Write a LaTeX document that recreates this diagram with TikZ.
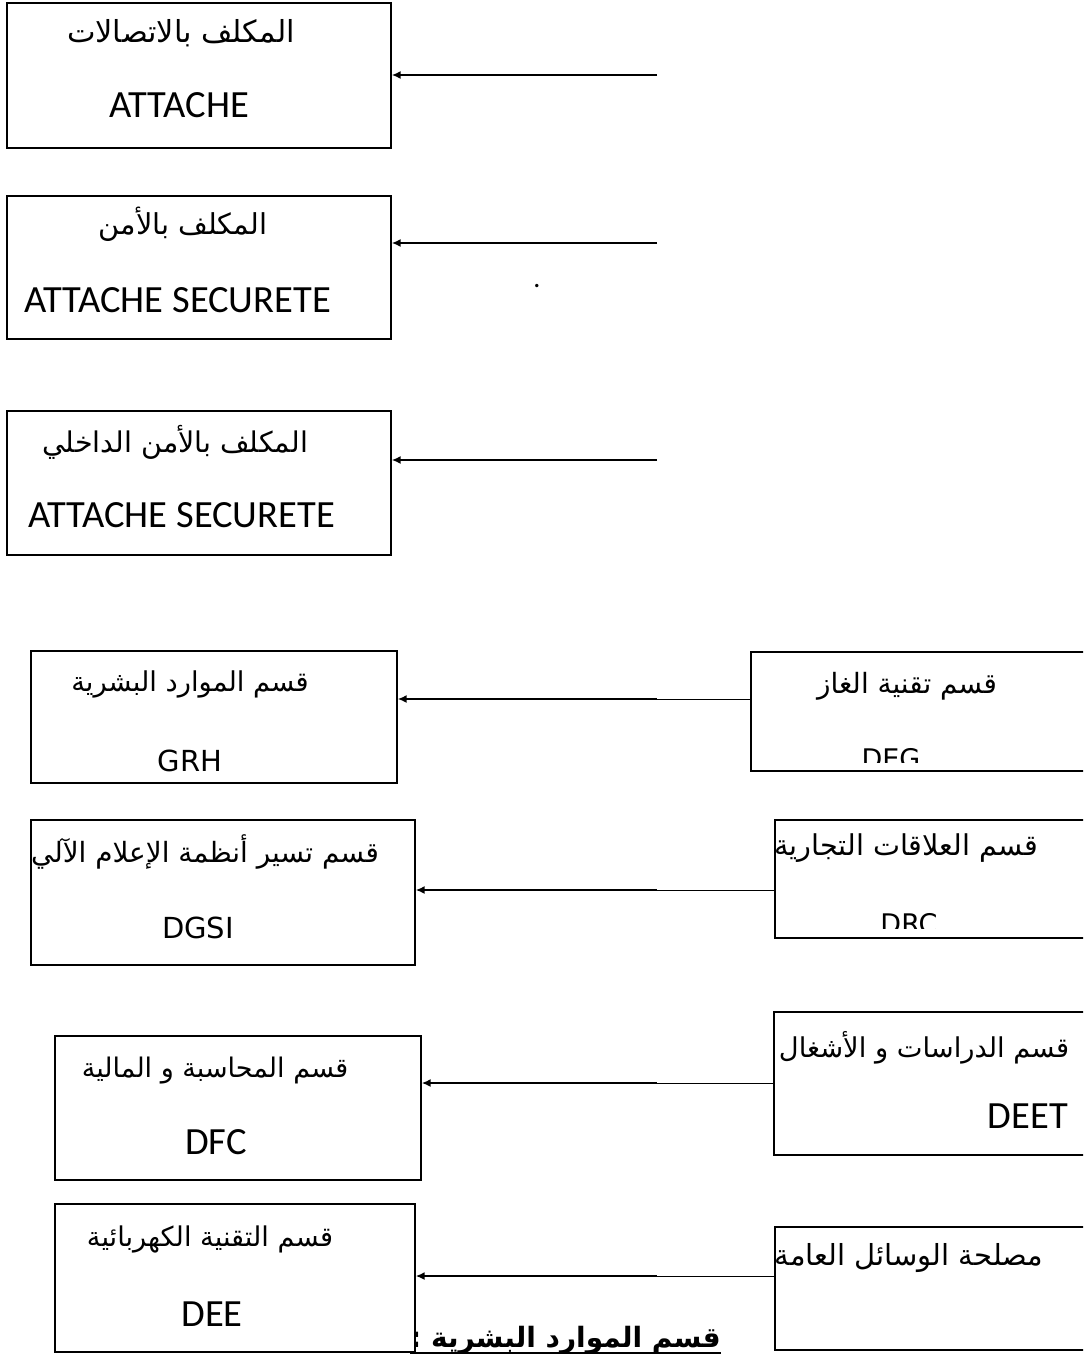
\documentclass[tikz,border=0pt]{standalone}
\usepackage{fontspec}
\usetikzlibrary{arrows.meta}
\TeXXeTstate=1
\newfontfamily\arabicfont[Script=Arabic]{DejaVu Sans}
\newfontfamily\calfont{Carlito}
\newfontfamily\vfont{DejaVu Sans}
\newcommand\artext[1]{{\arabicfont\beginR #1\endR}}
\newcommand\setfs[1]{\fontsize{#1bp}{#1bp}\selectfont}

\tikzset{
  box/.style={draw, line width=1.3bp, fill=white, inner sep=0pt},
  lbl/.style={inner sep=0pt, anchor=base},
  ar/.style={lbl, font=\setfs{27.5}},
  cal/.style={lbl, font=\calfont\setfs{38.5}},
  ver/.style={lbl, font=\vfont\setfs{29}},
  arr/.style={-{Latex[length=9bp,width=8bp]}, line width=2.1bp},
  link/.style={line width=1bp}
}

\begin{document}
\begin{tikzpicture}[x=1bp,y=-1bp]
\useasboundingbox (0,0) rectangle (1083,1360);
\clip (0,0) rectangle (1083,1360);
\fill[white] (0,0) rectangle (1083,1360);

% attachés (upper column)
\node[box, minimum width=384bp, minimum height=145bp] (att1) at (199,75.5) {};
\node[ar, font=\setfs{30.3}] (att1a) at (181,43) {\artext{المكلف بالاتصالات}};
\node[cal] (att1b) at (179,118) {ATTACHE};

\node[box, minimum width=384bp, minimum height=143bp] (att2) at (199,267.5) {};
\node[ar, font=\setfs{28.8}] (att2a) at (183,235) {\artext{المكلف بالأمن}};
\node[cal] (att2b) at (177.5,312) {ATTACHE SECURETE};

\node[box, minimum width=384bp, minimum height=144bp] (att3) at (199,483) {};
\node[ar, font=\setfs{28.5}] (att3a) at (175,452) {\artext{المكلف بالأمن الداخلي}};
\node[cal] (att3b) at (181.5,527) {ATTACHE SECURETE};

\node[cal, font=\calfont\setfs{28}] (dot) at (537,287) {.};

\coordinate (s1) at (657,75);
\coordinate (s2) at (657,243);
\coordinate (s3) at (657,460);
\draw[arr] (s1) -- (s1 -| att1.east);
\draw[arr] (s2) -- (s2 -| att2.east);
\draw[arr] (s3) -- (s3 -| att3.east);

% title under the lower left column
\node[lbl, anchor=base east, font=\bfseries\setfs{28}] (title) at (721,1347) {\artext{قسم الموارد البشرية :}};
\draw[line width=1.5bp] ([yshift=-6bp]title.base west) -- ([yshift=-6bp]title.base east);

% departments, left column
\node[box, minimum width=366bp, minimum height=132bp] (grh) at (214,717) {};
\node[ar, font=\setfs{27.3}] (grha) at (190,691) {\artext{قسم الموارد البشرية}};
\node[ver] (grhb) at (190,771) {GRH};

\node[box, minimum width=384bp, minimum height=145bp] (dgsi) at (223,892.5) {};
\node[ar, font=\setfs{27.9}] (dgsia) at (205,862) {\artext{قسم تسير أنظمة الإعلام الآلي}};
\node[ver] (dgsib) at (198,938) {DGSI};

\node[box, minimum width=366bp, minimum height=144bp] (dfc) at (238,1108) {};
\node[ar, font=\setfs{27}] (dfca) at (215,1077) {\artext{قسم المحاسبة و المالية}};
\node[cal] (dfcb) at (216,1154) {DFC};

\node[box, minimum width=360bp, minimum height=148bp] (dee) at (235,1278) {};
\node[ar, font=\setfs{27.2}] (deea) at (210,1246) {\artext{قسم التقنية الكهربائية}};
\node[cal] (deeb) at (212,1326) {DEE};

% departments, right column
\node[box, minimum width=344bp, minimum height=119bp] (deg) at (923,711.5) {};
\node[ar, font=\setfs{27.9}] (dega) at (907,693) {\artext{قسم تقنية الغاز}};
\begin{scope}
  \clip (751,652) rectangle (1083,762);
  \node[ver, font=\vfont\setfs{27}] (degb) at (891,768) {DEG};
\end{scope}

\node[box, minimum width=320bp, minimum height=118bp] (drc) at (935,879) {};
\node[ar, font=\setfs{28.7}] (drca) at (906,855) {\artext{قسم العلاقات التجارية}};
\begin{scope}
  \clip (775,820) rectangle (1083,928);
  \node[ver, font=\vfont\setfs{27}] (drcb) at (909,933) {DRC};
\end{scope}

\node[box, minimum width=321bp, minimum height=143bp] (deet) at (934.5,1083.5) {};
\node[ar, font=\setfs{27.3}] (deeta) at (924,1057) {\artext{قسم الدراسات و الأشغال}};
\node[cal] (deetb) at (1028,1128) {DEET};

\node[box, minimum width=320bp, minimum height=123bp] (gen) at (935,1288.5) {};
\node[ar, font=\setfs{29}] (gena) at (909,1265) {\artext{مصلحة الوسائل العامة}};

% links between the columns
\coordinate (s4) at (657,699);
\coordinate (s5) at (657,890);
\coordinate (s6) at (657,1083);
\coordinate (s7) at (657,1276);
\draw[link] (deg.west |- s4) -- (s4);
\draw[link] (drc.west |- s5) -- (s5);
\draw[link] (deet.west |- s6) -- (s6);
\draw[link] (gen.west |- s7) -- (s7);
\draw[arr] (s4) -- (s4 -| grh.east);
\draw[arr] (s5) -- (s5 -| dgsi.east);
\draw[arr] (s6) -- (s6 -| dfc.east);
\draw[arr] (s7) -- (s7 -| dee.east);
\end{tikzpicture}
\end{document}
